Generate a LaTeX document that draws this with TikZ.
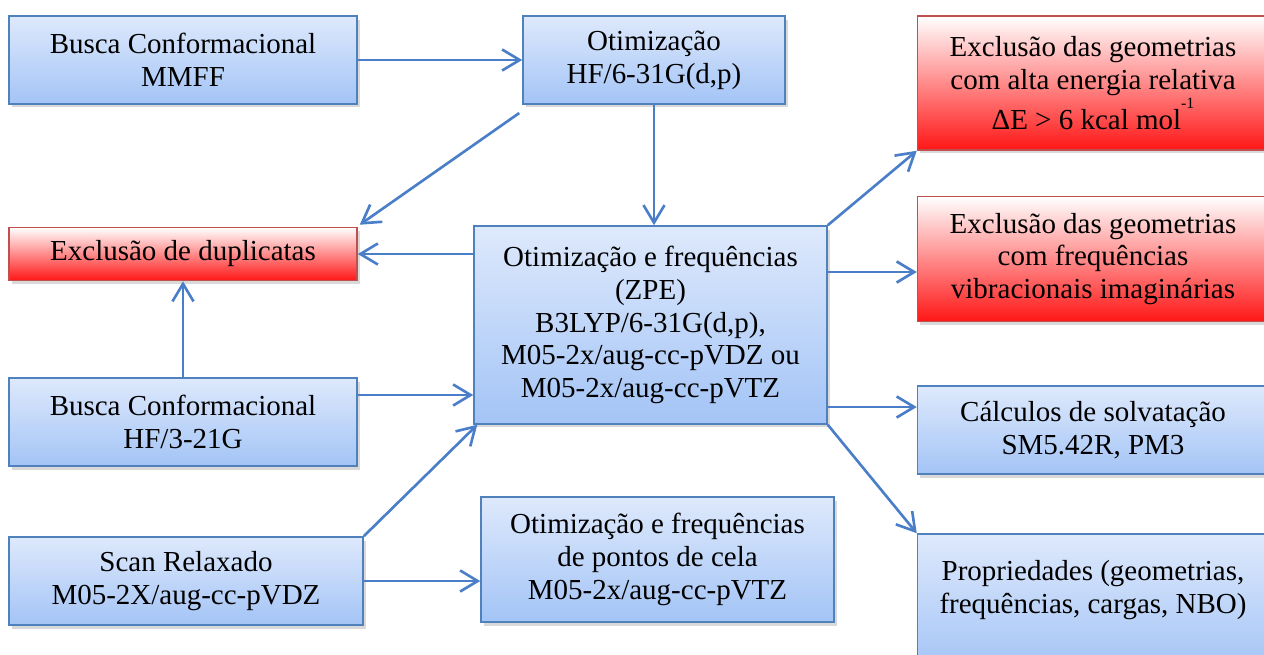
\documentclass[tikz,border=0pt]{standalone}
\usepackage{fontspec}
\setmainfont{Liberation Serif}
\usetikzlibrary{arrows.meta,shadows,calc}
\definecolor{azulborda}{RGB}{79,129,189}
\definecolor{azulseta}{RGB}{74,126,200}
\definecolor{azulclaro}{RGB}{222,233,252}
\definecolor{azulescuro}{RGB}{163,196,246}
\definecolor{vermelhoborda}{RGB}{192,80,77}
\definecolor{vermelho}{RGB}{255,22,22}

\begin{document}
\begin{tikzpicture}[x=0.02cm,y=-0.02cm,
		caixa/.style={draw=azulborda,line width=0.9pt,top color=azulclaro,bottom color=azulescuro,
			drop shadow={shadow xshift=1.5pt,shadow yshift=-2pt,opacity=0.3},
			align=center,inner xsep=2pt,inner ysep=0pt,font=\fontsize{16.5}{18.7}\selectfont},
		caixavermelha/.style={caixa,draw=vermelhoborda,top color=white,bottom color=vermelho},
		seta/.style={draw=azulseta,line width=1.5pt,-{Straight Barb[length=10pt,width=12pt]}}]
	\useasboundingbox (0,0) rectangle (1264,655);
	
	\node[caixa,minimum width=6.96cm,minimum height=1.75cm] (mmff) at (183,60) {Busca Conformacional\\MMFF};
	\node[caixa,minimum width=5.24cm,minimum height=1.75cm] (hf631) at (654,60) {Otimização\\HF/6-31G(d,p)};
	\node[caixavermelha,minimum width=7.02cm,minimum height=2.68cm] (energia) at (1093,83) {Exclusão das geometrias\\com alta energia relativa\\ΔE > 6 kcal mol\raisebox{12pt}{\fontsize{9}{9}\selectfont -1}};
	\node[caixavermelha,minimum width=6.96cm,minimum height=1.06cm] (duplicatas) at (183,254) {Exclusão de duplicatas};
	\node[caixa,minimum width=7.06cm,minimum height=3.96cm] (zpe) at (650.5,325) {Otimização e frequências\\(ZPE)\\B3LYP/6-31G(d,p),\\M05-2x/aug-cc-pVDZ ou\\M05-2x/aug-cc-pVTZ};
	\node[caixavermelha,minimum width=7.02cm,minimum height=2.5cm] (imaginarias) at (1093,259) {Exclusão das geometrias\\com frequências\\vibracionais imaginárias};
	\node[caixa,minimum width=6.96cm,minimum height=1.76cm] (hf321) at (183,422) {Busca Conformacional\\HF/3-21G};
	\node[caixa,minimum width=7.02cm,minimum height=1.76cm] (solvatacao) at (1093,430) {Cálculos de solvatação\\SM5.42R, PM3};
	\node[caixa,minimum width=7.08cm,minimum height=1.76cm] (scan) at (186,581) {Scan Relaxado\\M05-2X/aug-cc-pVDZ};
	\node[caixa,minimum width=7.06cm,minimum height=2.5cm] (cela) at (657.5,559.5) {Otimização e frequências\\de pontos de cela\\M05-2x/aug-cc-pVTZ};
	\node[caixa,minimum width=7.02cm,minimum height=2.76cm] (propriedades) at (1093,603) {Propriedades (geometrias,\\frequências, cargas, NBO)\\\mbox{}};
	
	% setas
	\coordinate (pConf) at ([yshift=0.54cm]hf321.east);
	\coordinate (pImag) at ([yshift=-0.26cm]imaginarias.west);
	\coordinate (pSolv) at ([yshift=0.46cm]solvatacao.west);
	\draw[seta] (mmff) -- (hf631);
	\draw[seta] (hf631.south) -- (hf631.south |- zpe.north);
	\draw[seta] ([shift={(-3,8.5)}]hf631.south west) -- ([shift={(2,-2)}]duplicatas.north east);
	\draw[seta] (zpe.west |- duplicatas.east) -- (duplicatas.east);
	\draw[seta] (hf321.north) -- (duplicatas.south);
	\draw[seta] (pConf) -- (zpe.west |- pConf);
	\draw[seta] (scan.north east) -- ([shift={(4,0)}]zpe.south west);
	\draw[seta] (scan.east) -- (scan.east -| cela.west);
	\draw[seta] (zpe.north east) -- (energia.south west);
	\draw[seta] (zpe.east |- pImag) -- (pImag);
	\draw[seta] (zpe.east |- pSolv) -- (pSolv);
	\draw[seta] (zpe.south east) -- (propriedades.north west);
\end{tikzpicture}
\end{document}
